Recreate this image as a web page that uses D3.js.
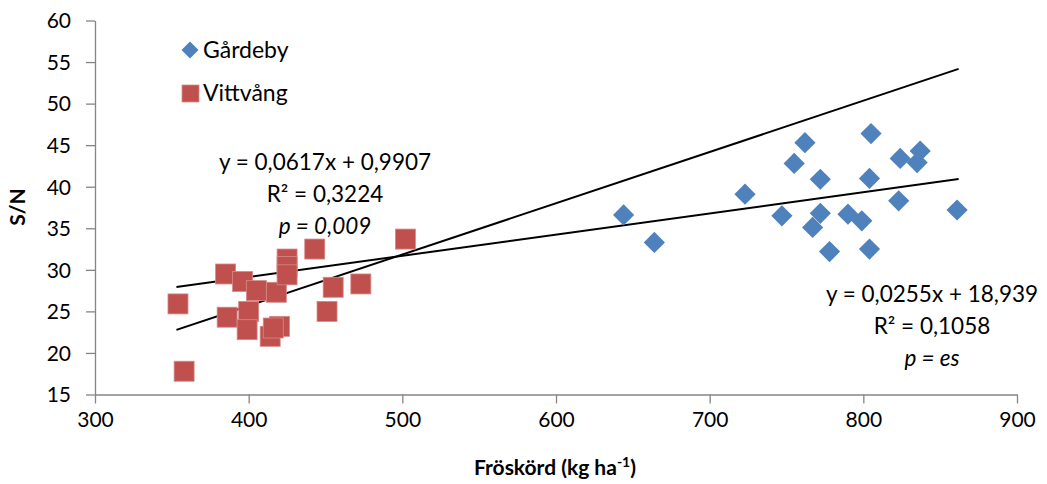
<!DOCTYPE html>
<html>
<head>
<meta charset="UTF-8">
<title>S/N vs Fröskörd</title>
<script src="https://d3js.org/d3.v7.min.js"></script>
<style>
  body { margin: 0; background: #fff; }
  text { font-family: Lato, "Open Sans", sans-serif; fill: #000; }
  .axis path, .axis line { stroke: #868686; stroke-width: 1.3px; }
  .axis text { font-size: 21px; }
</style>
</head>
<body>
<script>
// Gårdeby (blue diamonds)
var gardebyX = [644, 664, 723, 747, 755, 762, 772, 772, 767, 778, 790, 799, 805, 804, 804, 824, 835, 837, 823, 861];
var gardebyY = [36.6, 33.3, 39.1, 36.5, 42.8, 45.3, 40.9, 36.8, 35.1, 32.2, 36.7, 35.9, 46.4, 41.0, 32.5, 43.4, 42.9, 44.3, 38.3, 37.2];
// Vittvång (red squares)
var vittvangX = [354, 358, 385, 396, 405, 418, 425, 425, 425, 443, 502, 455, 473, 451, 386, 400, 399, 414, 420, 416];
var vittvangY = [25.9, 17.8, 29.5, 28.6, 27.5, 27.3, 31.3, 30.4, 29.4, 32.5, 33.7, 27.9, 28.3, 25.0, 24.3, 25.0, 22.8, 22.0, 23.2, 23.0];

var xTicks = [300, 400, 500, 600, 700, 800, 900];
var yTicks = [15, 20, 25, 30, 35, 40, 45, 50, 55, 60];

// trendlines: [slope, intercept], drawn across full data range
var trendSteep = [0.0617, 0.9907];
var trendFlat = [0.0255, 18.939];
var trendRange = [353, 862];

var W = 1047, H = 484;
var svg = d3.select("body").append("svg").attr("width", W).attr("height", H);

var x = d3.scaleLinear().domain([300, 900]).range([95, 1017]);
var y = d3.scaleLinear().domain([15, 60]).range([394.5, 20.5]);

svg.append("g").attr("class", "axis")
  .attr("transform", "translate(0," + y(15) + ")")
  .call(d3.axisBottom(x).tickValues(xTicks).tickSize(9).tickSizeOuter(0).tickPadding(5))
  .selectAll("text").attr("dy", "0.9em");

svg.append("g").attr("class", "axis")
  .attr("transform", "translate(" + x(300) + ",0)")
  .call(d3.axisLeft(y).tickValues(yTicks).tickSize(9).tickSizeOuter(0).tickPadding(15))
  .selectAll("text").attr("dy", "0.35em");

// trendlines
var line = d3.line().x(function(d) { return x(d[0]); }).y(function(d) { return y(d[1]); });
[trendSteep, trendFlat].forEach(function(t) {
  svg.append("path")
    .attr("d", line(trendRange.map(function(v) { return [v, t[0] * v + t[1]]; })))
    .attr("fill", "none").attr("stroke", "#000").attr("stroke-width", 2);
});

// Gårdeby diamonds
svg.selectAll(".g").data(gardebyX).enter().append("rect")
  .attr("x", -7.5).attr("y", -7.5).attr("width", 15).attr("height", 15)
  .attr("fill", "#4f81bd")
  .attr("transform", function(d, i) { return "translate(" + x(d) + "," + y(gardebyY[i]) + ") rotate(45)"; });

// Vittvång squares
svg.selectAll(".v").data(vittvangX).enter().append("rect")
  .attr("x", function(d) { return x(d) - 10; })
  .attr("y", function(d, i) { return y(vittvangY[i]) - 10; })
  .attr("width", 20).attr("height", 20)
  .attr("fill", "#c0504d").attr("stroke", "#d58a88").attr("stroke-width", 0.8);

// legend
var leg = svg.append("g");
leg.append("rect").attr("x", -6).attr("y", -6).attr("width", 12).attr("height", 12)
  .attr("fill", "#4f81bd").attr("transform", "translate(190,50) rotate(45)");
leg.append("text").attr("x", 203).attr("y", 58).style("font-size", "23px").text("Gårdeby");
leg.append("rect").attr("x", 182).attr("y", 85).attr("width", 17).attr("height", 17)
  .attr("fill", "#c0504d").attr("stroke", "#d58a88").attr("stroke-width", 0.8);
leg.append("text").attr("x", 203).attr("y", 101).style("font-size", "23px").text("Vittvång");

// equation labels
function eq(cx, cy, lines) {
  var t = svg.append("text").attr("text-anchor", "middle").style("font-size", "22.5px");
  lines.forEach(function(l, i) {
    var ts = t.append("tspan").attr("x", cx).attr("y", cy + i * 32).text(l);
    if (i === 2) ts.style("font-style", "italic");
  });
}
eq(325, 170, ["y = 0,0617x + 0,9907", "R² = 0,3224", "p = 0,009"]);
eq(932, 302, ["y = 0,0255x + 18,939", "R² = 0,1058", "p = es"]);

// axis titles
var xt = svg.append("text").attr("x", 555).attr("y", 475).attr("text-anchor", "middle")
  .style("font-size", "21px").style("font-weight", "bold");
xt.append("tspan").text("Fröskörd (kg ha");
xt.append("tspan").attr("dy", -8).style("font-size", "14px").text("-1");
xt.append("tspan").attr("dy", 8).text(")");

svg.append("text").attr("transform", "translate(25,207) rotate(-90)")
  .attr("text-anchor", "middle").style("font-size", "21px").style("font-weight", "bold")
  .text("S/N");
</script>
</body>
</html>
